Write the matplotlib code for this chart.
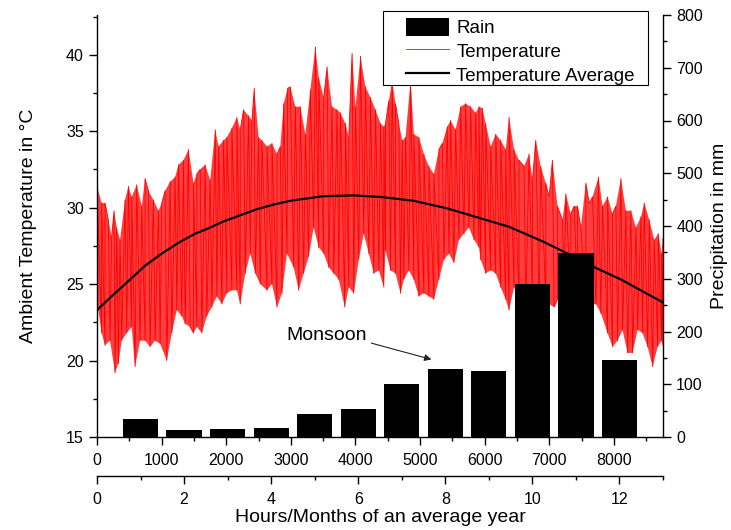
import numpy as np
import matplotlib.pyplot as plt
from matplotlib.patches import Rectangle
from matplotlib.ticker import MultipleLocator

plt.rcParams['font.family'] = ['Liberation Sans', 'DejaVu Sans']

# Monthly rainfall (mm), months 1..12
months = [1, 2, 3, 4, 5, 6, 7, 8, 9, 10, 11, 12]
rain_mm = [34, 13, 15, 18, 43, 53, 100, 129, 126, 290, 348, 146]

# Hourly temperature record: daily peak (upper envelope) values
peak_hours = [0, 72, 124, 176, 227, 264, 305, 357, 434, 486, 537, 615, 693, 744, 796, 873, 951,
              1003, 1054, 1132, 1209, 1261, 1338, 1416, 1494,
              1545, 1597, 1674, 1752, 1830, 1881, 1959, 2010, 2088, 2165, 2217, 2269, 2346, 2398,
              2434, 2501, 2553, 2631, 2708, 2786, 2837, 2889, 2951,
              2992, 3070, 3147, 3225, 3302, 3380, 3432, 3509, 3561, 3638, 3716, 3768, 3845, 3897,
              3948, 4000, 4078, 4155, 4233, 4310, 4388, 4439,
              4465, 4517, 4568, 4620, 4672, 4724, 4775, 4853, 4904, 4982, 5059, 5137, 5214, 5292,
              5344, 5421, 5473, 5550, 5628, 5705, 5783, 5860, 5912,
              5964, 6016, 6093, 6171, 6248, 6326, 6377, 6455, 6532, 6610, 6687, 6739, 6791, 6868,
              6946, 6997, 7049, 7127, 7204, 7256, 7333, 7385,
              7437, 7488, 7566, 7618, 7669, 7762, 7824, 7902, 7979, 8031, 8109, 8186, 8264, 8341,
              8419, 8470, 8548, 8625, 8687, 8739, 8760]
peak_temps = [31.4, 30.3, 30.3, 29.2, 28.1, 29.8, 28.7, 27.9, 30.5, 31.4, 30.7, 31.5, 30.1, 31.9,
              31.1, 30.5, 29.8, 30.3, 31.1, 31.7, 32.0, 32.8, 33.1, 33.8, 31.6,
              32.2, 32.5, 32.8, 31.8, 35.1, 34.0, 34.4, 34.6, 35.2, 35.9, 35.1, 36.4, 36.0, 35.7,
              37.8, 34.6, 34.4, 34.0, 34.2, 33.5, 34.0, 36.8, 37.8,
              37.9, 36.6, 36.6, 34.8, 37.7, 40.5, 38.5, 37.2, 39.2, 36.6, 36.4, 36.2, 35.5, 34.6,
              40.1, 36.6, 39.9, 37.9, 37.2, 36.4, 35.5, 35.3,
              35.5, 37.0, 38.3, 36.8, 35.5, 34.4, 34.6, 38.3, 34.8, 34.6, 33.5, 32.7, 32.2, 33.8,
              34.2, 35.3, 35.7, 35.1, 36.6, 36.8, 36.6, 36.2, 36.6,
              36.5, 35.5, 34.0, 34.8, 34.4, 33.8, 35.9, 33.8, 33.1, 32.7, 33.5, 31.8, 34.4, 32.7,
              31.6, 30.7, 33.1, 30.1, 29.2, 30.9, 29.6, 30.1,
              30.1, 28.7, 31.6, 30.3, 30.7, 32.0, 30.1, 30.7, 29.6, 30.1, 31.9, 29.8, 29.8, 28.7,
              29.4, 30.3, 29.2, 27.9, 28.3, 27.0, 28.0]

# Hourly temperature record: nightly trough (lower envelope) values
trough_hours = [0, 72, 124, 202, 279, 331, 382, 460, 537, 589, 667, 744, 822, 899, 977, 1080,
                1158, 1235, 1313, 1364, 1442, 1494,
                1545, 1623, 1700, 1778, 1855, 1933, 2010, 2088, 2165, 2217, 2295, 2372, 2450,
                2527, 2631, 2708, 2786, 2863, 2941,
                3044, 3122, 3199, 3276, 3354, 3432, 3509, 3587, 3664, 3742, 3835, 3897, 3974,
                4052, 4129, 4207, 4284, 4362, 4439,
                4465, 4543, 4620, 4698, 4749, 4827, 4904, 4982, 5059, 5137, 5214, 5292, 5370,
                5447, 5525, 5602, 5680, 5757, 5835, 5912,
                5938, 6016, 6093, 6171, 6248, 6326, 6377, 6455, 6532, 6636, 6739, 6842, 6946,
                7075, 7127, 7230, 7333,
                7437, 7566, 7721, 7798, 7902, 7979, 8057, 8134, 8212, 8289, 8367, 8444, 8522,
                8600, 8677, 8739, 8760]
trough_temps = [23.9, 21.8, 21.0, 21.3, 19.2, 19.8, 21.3, 21.8, 22.2, 19.6, 21.3, 21.3, 20.9,
                21.3, 21.1, 20.0, 21.8, 23.3, 22.9, 22.4, 22.2, 21.8,
                22.2, 21.8, 22.9, 23.5, 24.2, 23.7, 24.4, 24.6, 24.6, 23.7, 25.7, 27.0, 25.7,
                25.0, 24.6, 25.0, 23.5, 24.4, 27.0,
                26.1, 24.6, 25.7, 26.8, 28.7, 27.4, 27.0, 26.1, 25.7, 25.3, 23.5, 24.8, 24.4,
                26.6, 28.3, 27.0, 25.7, 25.9, 24.8,
                27.2, 25.9, 25.7, 24.4, 25.3, 25.9, 25.3, 24.2, 24.4, 24.2, 24.0, 25.3, 26.6,
                27.0, 26.4, 27.9, 28.3, 28.7, 27.9, 27.4,
                26.6, 25.7, 25.9, 25.7, 24.8, 24.0, 23.3, 24.8, 23.8, 23.2, 24.0, 23.5, 23.8,
                23.5, 24.0, 24.5, 24.0,
                24.2, 23.5, 23.7, 23.1, 21.8, 20.9, 21.3, 22.0, 20.5, 20.5, 22.0, 21.8, 20.9,
                19.6, 20.9, 21.3, 21.0]

# Smoothed yearly temperature average
avg_hours = [0, 227, 486, 744, 1003, 1261, 1519, 1700, 1959, 2217, 2475, 2734, 2992, 3504,
             3970, 4388, 4900, 5421, 5938, 6377, 6894, 7282, 7700, 8109, 8760]
avg_temps = [23.3, 24.2, 25.2, 26.2, 27.0, 27.7, 28.3, 28.6, 29.1, 29.5, 29.9, 30.2, 30.45,
             30.75, 30.8, 30.7, 30.45, 29.95, 29.3, 28.75, 27.8, 27.0, 26.1, 25.3, 23.8]

hour_ticks = [0, 1000, 2000, 3000, 4000, 5000, 6000, 7000, 8000]
month_ticks = [0, 2, 4, 6, 8, 10, 12]

W, H = 731, 530
fig = plt.figure(figsize=(W / 100, H / 100), dpi=100)
pos = [97 / W, 93 / H, 566 / W, 422 / H]

# ---- temperature axes (hours on x) ----
ax = fig.add_axes(pos)
ax.set_xlim(0, 8760)
ax.set_ylim(15, 42.6)

band_x = peak_hours + trough_hours[::-1]
band_y = peak_temps + trough_temps[::-1]
ax.fill(band_x, band_y, color='#ff2a2a', alpha=0.9, lw=0)

pts = sorted(zip(peak_hours + trough_hours, peak_temps + trough_temps))
ax.plot([p[0] for p in pts], [p[1] for p in pts], color='#ff0000', lw=0.6,
        label='Temperature')
ax.plot(avg_hours, avg_temps, color='black', lw=1.6, label='Temperature Average')

ax.set_xticks(hour_ticks)
ax.xaxis.set_minor_locator(MultipleLocator(500))
ax.yaxis.set_major_locator(MultipleLocator(5))
ax.yaxis.set_minor_locator(MultipleLocator(2.5))
ax.spines['top'].set_visible(False)
ax.spines['right'].set_visible(False)
for s in ('left', 'bottom'):
    ax.spines[s].set_linewidth(1.0)
ax.tick_params(axis='both', which='major', direction='out', length=5.5, width=1.0,
               labelsize=11.5, pad=4)
ax.tick_params(axis='both', which='minor', direction='out', length=3, width=1.0)
ax.tick_params(axis='x', which='major', pad=6)
ax.set_ylabel('Ambient Temperature in °C', fontsize=14)
ax.yaxis.set_label_coords(-0.106, 0.5)

# ---- rainfall axes (months on x, precipitation on right y) ----
axb = fig.add_axes(pos)
axb.patch.set_visible(False)
axb.bar(months, rain_mm, width=0.81, color='black', label='Rain')
axb.set_xlim(0, 13)
axb.set_ylim(0, 800)
axb.set_xticks(month_ticks)
axb.xaxis.set_minor_locator(MultipleLocator(1))
axb.yaxis.set_major_locator(MultipleLocator(100))
axb.yaxis.set_minor_locator(MultipleLocator(50))
axb.yaxis.tick_right()
axb.yaxis.set_label_position('right')
axb.spines['left'].set_visible(False)
axb.spines['top'].set_visible(False)
axb.spines['bottom'].set_position(('outward', 39 * 0.72))
for s in ('right', 'bottom'):
    axb.spines[s].set_linewidth(1.0)
axb.tick_params(axis='both', which='major', direction='out', length=5.5, width=1.0,
                labelsize=11.5, pad=4)
axb.tick_params(axis='both', which='minor', direction='out', length=3, width=1.0)
axb.tick_params(axis='x', which='major', pad=6)
axb.set_ylabel('Precipitation in mm', fontsize=14)
axb.yaxis.set_label_coords(1.085, 0.5)
axb.set_xlabel('Hours/Months of an average year', fontsize=14)
axb.xaxis.set_label_coords(0.5, -0.170)

axb.text(5.27, 191.5, 'Monsoon', ha='center', va='center', fontsize=14)
axb.annotate('', xy=(7.68, 147), xytext=(6.30, 178),
             arrowprops=dict(arrowstyle='-|>', color='#222222', lw=0.8,
                             mutation_scale=10, shrinkA=0, shrinkB=0))

# legend: frame drawn separately so its margins can be set freely
frame = Rectangle((383 / W, (H - 85) / H), 265 / W, 74.3 / H, transform=fig.transFigure,
                  facecolor='white', edgecolor='black', lw=0.8, clip_on=False, zorder=9)
axb.add_patch(frame)
handles = [axb.containers[0], ax.lines[0], ax.lines[1]]
labels = ['Rain', 'Temperature', 'Temperature Average']
leg = axb.legend(handles, labels, loc='upper left',
                 bbox_to_anchor=(405.7 / W, (H - 18) / H), bbox_transform=fig.transFigure,
                 fontsize=13.5, frameon=False, handlelength=2.33, handleheight=1.07,
                 labelspacing=0.25, borderpad=0, handletextpad=0.36, borderaxespad=0)
leg.set_zorder(10)

fig.savefig('out.png', dpi=100)
